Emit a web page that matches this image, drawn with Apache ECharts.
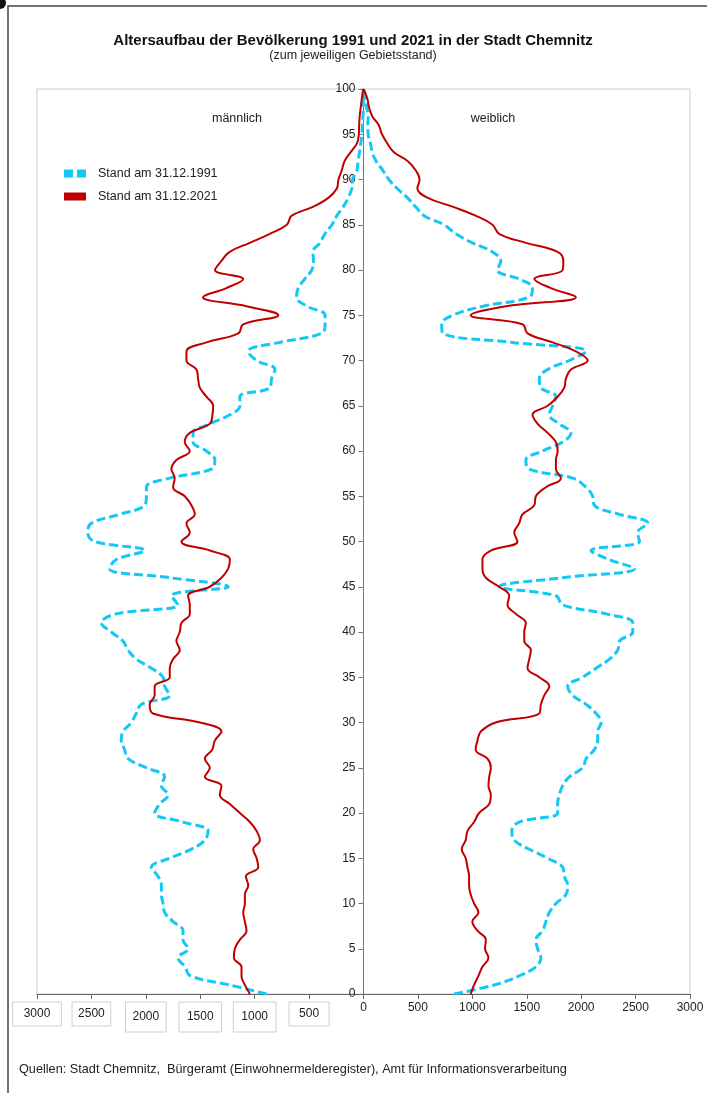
<!DOCTYPE html>
<html>
<head>
<meta charset="utf-8">
<script src="https://cdn.jsdelivr.net/npm/echarts@6/dist/echarts.min.js"></script>
<style>
html,body{margin:0;padding:0;background:#fff;}
#c{width:707px;height:1093px;}
</style>
</head>
<body>
<div id="c"></div>
<script>
// Ages 0..100
const ages = Array.from({length: 101}, (_, i) => i);
const xTicks = [-3000,-2500,-2000,-1500,-1000,-500,0,500,1000,1500,2000,2500,3000];
const yTicks = [0,5,10,15,20,25,30,35,40,45,50,55,60,65,70,75,80,85,90,95,100];

const male1991 = [890,1230,1590,1640,1704,1612,1658,1658,1750,1827,1842,1857,1857,1888,1949,1780,1581,1458,1428,1658,1919,1873,1796,1857,1827,1995,2164,2195,2226,2210,2134,2088,2041,1780,1827,1842,1949,2088,2164,2210,2318,2410,2272,1704,1765,1243,1780,2333,2272,2011,2471,2533,2502,2241,2011,1995,1995,1780,1397,1366,1443,1566,1566,1412,1228,1136,1136,860,844,814,982,1059,768,384,353,353,520,615,600,540,475,460,465,400,355,290,245,185,140,107,100,60,50,37,25,15,10,5,3,2,0];
const male2021 = [1044,1090,1121,1121,1191,1182,1136,1075,1090,1105,1090,1090,1059,1081,967,982,1013,952,982,1044,1136,1228,1320,1305,1458,1412,1458,1390,1366,1305,1504,1934,1965,1919,1919,1780,1780,1750,1688,1719,1688,1673,1596,1596,1612,1412,1305,1243,1228,1412,1673,1596,1627,1550,1581,1642,1750,1735,1765,1719,1596,1642,1596,1412,1388,1381,1443,1504,1520,1535,1627,1627,1443,1150,1105,783,1075,1475,1260,1105,1365,1305,1230,1045,860,705,660,460,320,245,230,200,175,120,60,43,40,35,25,15,3];
const female1991 = [832,1200,1430,1584,1630,1600,1584,1646,1676,1707,1768,1860,1876,1845,1830,1692,1523,1385,1363,1431,1784,1784,1799,1830,1891,2014,2045,2121,2152,2152,2183,2137,2045,1922,1876,2014,2137,2260,2336,2352,2474,2474,2229,1830,1768,1246,1830,2490,2260,2091,2536,2520,2613,2352,2121,2106,2045,1922,1523,1492,1646,1830,1906,1799,1707,1738,1768,1630,1615,1692,1891,2045,1369,730,718,820,1100,1523,1553,1430,1231,1262,1185,1000,847,740,556,479,402,310,233,178,117,80,64,43,40,43,28,18,0];
const female2021 = [985,1016,1056,1093,1148,1117,1124,1047,1000,1056,1016,985,970,970,955,939,903,939,955,1016,1062,1155,1170,1148,1155,1170,1139,1031,1047,1078,1215,1615,1630,1661,1707,1615,1507,1523,1538,1477,1477,1492,1400,1323,1339,1246,1124,1093,1093,1170,1415,1385,1430,1461,1569,1584,1676,1814,1768,1768,1784,1768,1692,1600,1553,1692,1784,1845,1860,1906,2060,1952,1738,1507,1461,985,1308,1952,1722,1570,1830,1836,1784,1492,1246,1185,1030,817,586,495,515,480,410,280,218,170,140,80,50,34,0];

const name1991 = 'Stand am 31.12.1991';
const name2021 = 'Stand am 31.12.2021';
const blue = '#14C8F5';
const red = '#C00000';
const FONT = 'Liberation Sans, Arial, sans-serif';

function pts(vals, sign) { return ages.map((a, i) => [sign * vals[i], a]); }

const boxStyle = (ph, pv) => ({
  borderColor: '#cfcfcf', borderWidth: 1, padding: [pv, ph, pv, ph],
  fontSize: 12, fontFamily: FONT, color: '#222'
});
const richMap = {
  r3000: boxStyle(11, 6), r2500: boxStyle(6, 6), r2000: boxStyle(7, 9),
  r1500: boxStyle(8, 9), r1000: boxStyle(8, 9), r500: boxStyle(10, 6)
};

const chart = echarts.init(document.getElementById('c'));
chart.setOption({
  backgroundColor: '#fff',
  animation: false,
  textStyle: { fontFamily: FONT },
  title: [
    { text: 'Altersaufbau der Bevölkerung 1991 und 2021 in der Stadt Chemnitz',
      left: 348, top: 28, textAlign: 'center',
      textStyle: { fontSize: 15, fontWeight: 'bold', color: '#111', fontFamily: FONT } },
    { text: '(zum jeweiligen Gebietsstand)', left: 348, top: 44, textAlign: 'center',
      textStyle: { fontSize: 12.5, fontWeight: 'normal', color: '#222', fontFamily: FONT } },
    { text: 'männlich', left: 232, top: 107, textAlign: 'center',
      textStyle: { fontSize: 12.5, fontWeight: 'normal', color: '#222', fontFamily: FONT } },
    { text: 'weiblich', left: 488, top: 107, textAlign: 'center',
      textStyle: { fontSize: 12.5, fontWeight: 'normal', color: '#222', fontFamily: FONT } },
    { text: 'Quellen: Stadt Chemnitz,  Bürgeramt (Einwohnermelderegister), Amt für Informationsverarbeitung',
      left: 14, top: 1058,
      textStyle: { fontSize: 12.7, fontWeight: 'normal', color: '#222', fontFamily: FONT } }
  ],
  legend: {
    orient: 'vertical', left: 59, top: 162, itemWidth: 22, itemHeight: 8, itemGap: 10,
    textStyle: { fontSize: 12.5, color: '#222', fontFamily: FONT, padding: [0, 0, 0, 7] },
    data: [
      { name: name1991, icon: 'path://M0,0 H9 V8 H0 Z M13,0 H22 V8 H13 Z', itemStyle: { color: blue } },
      { name: name2021, icon: 'rect', itemStyle: { color: red } }
    ]
  },
  graphic: [
    { type: 'rect', shape: { x: 8, y: 6, width: 720, height: 1110 },
      style: { fill: 'none', stroke: '#444', lineWidth: 1.5 }, silent: true },
    { type: 'circle', shape: { cx: 0, cy: 3, r: 6 }, style: { fill: '#111' }, silent: true }
  ],
  grid: { left: 37, right: 17, top: 89, bottom: 99, show: true, borderColor: '#cccccc', borderWidth: 1 },
  xAxis: {
    type: 'value', min: -3000, max: 3000, interval: 500,
    axisLine: { onZero: false, lineStyle: { color: '#666', width: 1 } },
    axisTick: { show: true, length: 5, lineStyle: { color: '#666' } },
    splitLine: { show: false },
    axisLabel: {
      fontSize: 12, color: '#222', fontFamily: FONT, margin: 8,
      formatter: v => v < 0 ? '{r' + (-v) + '|' + (-v) + '}' : String(v),
      rich: richMap
    }
  },
  yAxis: {
    type: 'value', min: 0, max: 100, interval: 5, position: 'left', offset: -326.5,
    axisLine: { show: true, onZero: false, lineStyle: { color: '#777', width: 1 } },
    axisTick: { show: true, length: 5, lineStyle: { color: '#777' } },
    splitLine: { show: false },
    axisLabel: { fontSize: 12, color: '#222', fontFamily: FONT, margin: 8 }
  },
  series: [
    { name: name1991, type: 'line', data: pts(male1991, -1), showSymbol: false, symbol: 'none', smooth: 0.4,
      lineStyle: { color: blue, width: 3, type: [9, 4] }, itemStyle: { color: blue }, z: 2 },
    { name: name1991, type: 'line', data: pts(female1991, 1), showSymbol: false, symbol: 'none', smooth: 0.4,
      lineStyle: { color: blue, width: 3, type: [9, 4] }, itemStyle: { color: blue }, z: 2 },
    { name: name2021, type: 'line', data: pts(male2021, -1), showSymbol: false, symbol: 'none', smooth: 0.4,
      lineStyle: { color: red, width: 2 }, itemStyle: { color: red }, z: 3 },
    { name: name2021, type: 'line', data: pts(female2021, 1), showSymbol: false, symbol: 'none', smooth: 0.4,
      lineStyle: { color: red, width: 2 }, itemStyle: { color: red }, z: 3 }
  ]
});
</script>
</body>
</html>
